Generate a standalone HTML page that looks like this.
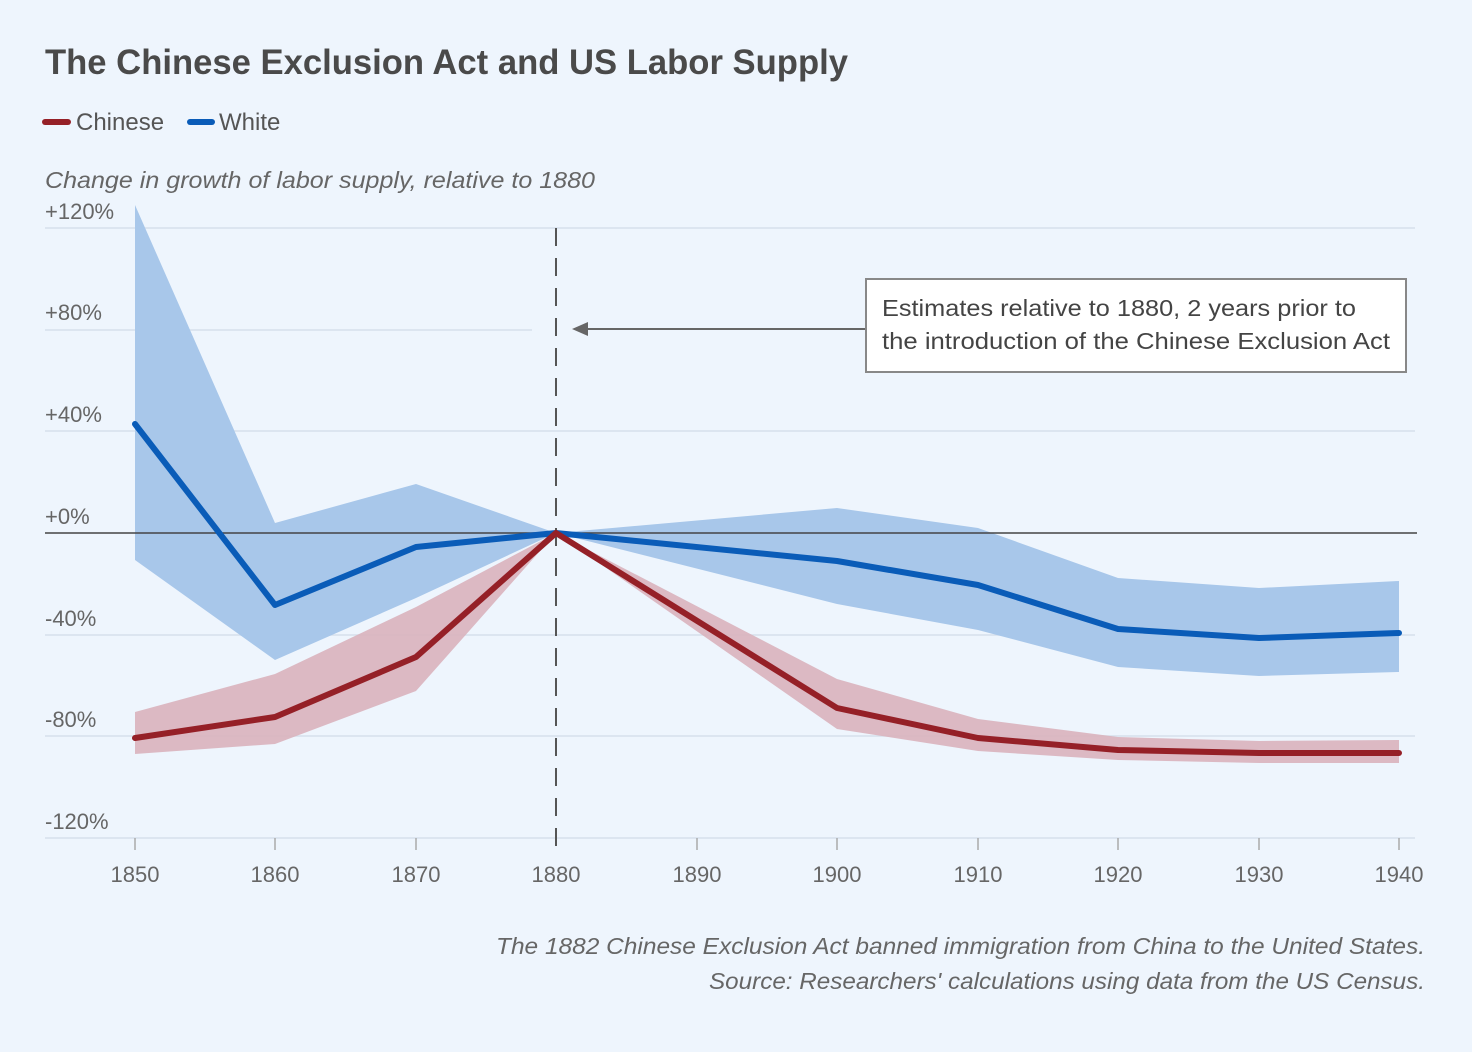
<!DOCTYPE html>
<html><head><meta charset="utf-8"><style>
body{margin:0;background:#eef5fd;}
svg{display:block;font-family:"Liberation Sans","DejaVu Sans",sans-serif;}
</style></head><body>
<svg width="1472" height="1052" viewBox="0 0 1472 1052">
<rect width="1472" height="1052" fill="#eef5fd"/>
<text x="45" y="74" font-size="35" font-weight="bold" fill="#4a4a4a" textLength="803" lengthAdjust="spacingAndGlyphs">The Chinese Exclusion Act and US Labor Supply</text>
<line x1="45" y1="122" x2="68" y2="122" stroke="#952027" stroke-width="6" stroke-linecap="round"/>
<text x="76" y="130" font-size="24" fill="#555">Chinese</text>
<line x1="190" y1="122" x2="212" y2="122" stroke="#0a5cb8" stroke-width="6" stroke-linecap="round"/>
<text x="219" y="130" font-size="24" fill="#555">White</text>
<text x="45" y="188" font-size="23" font-style="italic" fill="#666" textLength="550" lengthAdjust="spacingAndGlyphs">Change in growth of labor supply, relative to 1880</text>
<g stroke="#d6e0ec" stroke-width="1.5">
<line x1="45" y1="228" x2="1415" y2="228"/>
<line x1="45" y1="330" x2="532" y2="330"/>
<line x1="45" y1="431" x2="1415" y2="431"/>
<line x1="45" y1="635" x2="1415" y2="635"/>
<line x1="45" y1="736" x2="1415" y2="736"/>
<line x1="45" y1="838" x2="1415" y2="838"/>
</g>
<g font-size="22" fill="#666">
<text x="45" y="219">+120%</text>
<text x="45" y="320">+80%</text>
<text x="45" y="422">+40%</text>
<text x="45" y="524">+0%</text>
<text x="45" y="626">-40%</text>
<text x="45" y="727">-80%</text>
<text x="45" y="829">-120%</text>
</g>
<polygon fill="#a8c7ea" points="135,205 275,523 416,484 556,533 837,508 978,528 1118,578 1259,588 1399,581 1399,672 1259,676 1118,667 978,630 837,604 556,533 416,598 275,660 135,560"/>
<polygon fill="#d9b3bd" fill-opacity="0.9" points="135,712 275,674 416,607 556,533 837,679 978,719 1118,737 1259,741 1399,740 1399,763 1259,763 1118,760 978,751 837,729 556,533 416,691 275,744 135,754"/>
<line x1="45" y1="533" x2="1417" y2="533" stroke="#444" stroke-width="1.5"/>
<line x1="556" y1="228" x2="556" y2="850" stroke="#555" stroke-width="2" stroke-dasharray="18,12"/>
<polyline fill="none" stroke="#0a5cb8" stroke-width="6" stroke-linejoin="round" stroke-linecap="round" points="135,424 275,605 416,547 556,533 837,561 978,585 1118,629 1259,638 1399,633"/>
<polyline fill="none" stroke="#952027" stroke-width="6" stroke-linejoin="round" stroke-linecap="round" points="135,738 275,717 416,657 556,533 837,708 978,738 1118,750 1259,753 1399,753"/>
<g stroke="#aaa" stroke-width="1.5">
<line x1="135" y1="838" x2="135" y2="850"/><line x1="275" y1="838" x2="275" y2="850"/><line x1="416" y1="838" x2="416" y2="850"/><line x1="697" y1="838" x2="697" y2="850"/><line x1="837" y1="838" x2="837" y2="850"/><line x1="978" y1="838" x2="978" y2="850"/><line x1="1118" y1="838" x2="1118" y2="850"/><line x1="1259" y1="838" x2="1259" y2="850"/><line x1="1399" y1="838" x2="1399" y2="850"/>
</g>
<g font-size="22" fill="#666" text-anchor="middle">
<text x="135" y="882">1850</text><text x="275" y="882">1860</text><text x="416" y="882">1870</text><text x="556" y="882">1880</text><text x="697" y="882">1890</text><text x="837" y="882">1900</text><text x="978" y="882">1910</text><text x="1118" y="882">1920</text><text x="1259" y="882">1930</text><text x="1399" y="882">1940</text>
</g>
<line x1="580" y1="329" x2="866" y2="329" stroke="#666" stroke-width="2"/>
<polygon points="572,329 588,322 588,336" fill="#666"/>
<rect x="866" y="279" width="540" height="93" fill="#fff" stroke="#888" stroke-width="2"/>
<text x="882" y="316" font-size="23" fill="#444" textLength="474" lengthAdjust="spacingAndGlyphs">Estimates relative to 1880, 2 years prior to</text>
<text x="882" y="349" font-size="23" fill="#444" textLength="508" lengthAdjust="spacingAndGlyphs">the introduction of the Chinese Exclusion Act</text>
<g font-size="23" font-style="italic" fill="#666">
<text x="496" y="954" textLength="929" lengthAdjust="spacingAndGlyphs">The 1882 Chinese Exclusion Act banned immigration from China to the United States.</text>
<text x="709" y="989" textLength="716" lengthAdjust="spacingAndGlyphs">Source: Researchers' calculations using data from the US Census.</text>
</g>
</svg>
</body></html>
